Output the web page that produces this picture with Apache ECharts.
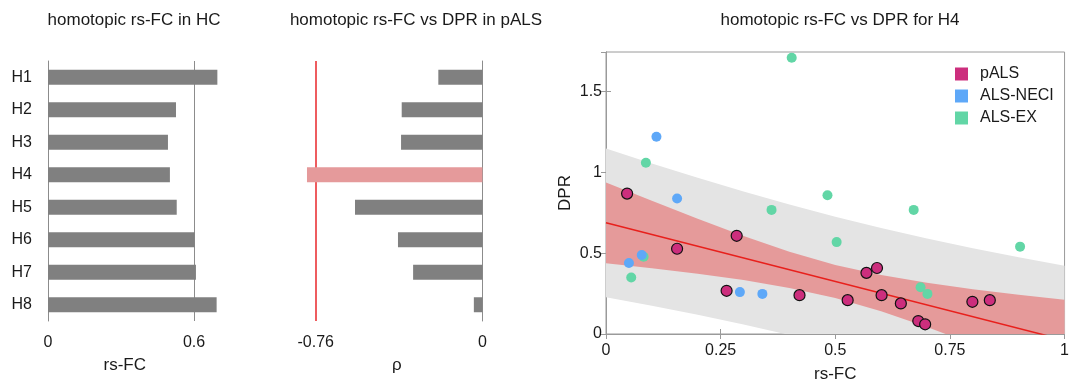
<!DOCTYPE html>
<html>
<head>
<meta charset="utf-8">
<script src="https://cdn.jsdelivr.net/npm/echarts@6/dist/echarts.min.js"></script>
<style>
  html, body { margin: 0; padding: 0; background: #fff; }
  #chart { width: 1072px; height: 388px; }
</style>
</head>
<body>
<div id="chart"></div>
<script>
// regions
const regions = ["H1", "H2", "H3", "H4", "H5", "H6", "H7", "H8"];
// homotopic rs-FC in HC
const hcFC = [0.696, 0.526, 0.493, 0.501, 0.529, 0.603, 0.608, 0.693];
// rho of rs-FC vs DPR in pALS
const rho = [-0.201, -0.368, -0.371, -0.80, -0.581, -0.385, -0.316, -0.039];
const rhoCrit = -0.76;
const hcRef = 0.6;

// scatter for H4
const palsX = [0.046, 0.285, 0.155, 0.263, 0.422, 0.527, 0.568, 0.591, 0.601, 0.643, 0.681, 0.696, 0.799, 0.837];
const palsY = [0.868, 0.607, 0.527, 0.267, 0.240, 0.209, 0.378, 0.408, 0.240, 0.189, 0.080, 0.060, 0.199, 0.209];
const neciX = [0.110, 0.155, 0.078, 0.050, 0.292, 0.341];
const neciY = [1.219, 0.837, 0.488, 0.439, 0.259, 0.248];
const exX = [0.405, 0.087, 0.483, 0.361, 0.671, 0.503, 0.903, 0.082, 0.055, 0.686, 0.701];
const exY = [1.707, 1.059, 0.858, 0.767, 0.767, 0.568, 0.540, 0.478, 0.349, 0.289, 0.248];

// regression line + bands
const regX = [0, 1];
const regY = [0.687, -0.038];
const bandX = [0, 0.1, 0.2, 0.3, 0.4, 0.5, 0.6, 0.7, 0.8, 0.9, 1.0];
const ciUpper = [0.936, 0.823, 0.712, 0.606, 0.509, 0.427, 0.364, 0.316, 0.277, 0.243, 0.211];
const ciLower = [0.438, 0.406, 0.372, 0.333, 0.285, 0.222, 0.140, 0.043, -0.063, -0.174, -0.287];
const piUpper = [1.147, 1.054, 0.965, 0.880, 0.800, 0.725, 0.655, 0.590, 0.530, 0.474, 0.422];
const piLower = [0.227, 0.175, 0.119, 0.059, -0.006, -0.076, -0.151, -0.231, -0.316, -0.405, -0.498];

const font = "'Liberation Sans', Arial, sans-serif";
const txt = "#1a1a1a";
const boxGray = "#9a9a9a";

function bandSeries(upper, lower, color) {
  let pts = bandX.map((x, i) => [x, upper[i]]);
  return {
    type: "custom",
    xAxisIndex: 2,
    yAxisIndex: 2,
    clip: true,
    silent: true,
    z: 1,
    data: pts,
    renderItem(params, api) {
      if (params.dataIndex !== 0) return;
      let poly = [];
      for (let i = 0; i < bandX.length; i++) poly.push(api.coord([bandX[i], upper[i]]));
      for (let i = bandX.length - 1; i >= 0; i--) poly.push(api.coord([bandX[i], lower[i]]));
      return {
        type: "polygon",
        shape: { points: poly },
        style: { fill: color },
      };
    },
  };
}

let chart = echarts.init(document.getElementById("chart"), null, { renderer: "canvas" });

let option = {
  backgroundColor: "#fff",
  animation: false,
  textStyle: { fontFamily: font },
  title: [
    { text: "homotopic rs-FC in HC", left: 129, top: 7, textAlign: "center",
      textStyle: { fontSize: 17, fontWeight: "normal", color: txt, fontFamily: font } },
    { text: "homotopic rs-FC vs DPR in pALS", left: 411, top: 7, textAlign: "center",
      textStyle: { fontSize: 17, fontWeight: "normal", color: txt, fontFamily: font } },
    { text: "homotopic rs-FC vs DPR for H4", left: 835, top: 7, textAlign: "center",
      textStyle: { fontSize: 17, fontWeight: "normal", color: txt, fontFamily: font } },
  ],
  legend: {
    data: ["pALS", "ALS-NECI", "ALS-EX"],
    orient: "vertical",
    left: 955,
    top: 66,
    padding: 0,
    icon: "rect",
    itemWidth: 13,
    itemHeight: 13,
    itemGap: 6,
    itemStyle: { borderWidth: 0 },
    textStyle: { fontSize: 16, color: txt, fontFamily: font, padding: [0, 0, 0, 7] },
  },
  grid: [
    { left: 48, top: 61, width: 182.5, height: 260 },
    { left: 300.4, top: 61, width: 182, height: 260 },
    { left: 606, top: 52, width: 463, height: 283, show: true, borderColor: boxGray, borderWidth: 1 },
  ],
  xAxis: [
    {
      gridIndex: 0, type: "value", min: 0, max: 0.75,
      name: "rs-FC", nameLocation: "middle", nameGap: 36,
      nameTextStyle: { fontSize: 17, color: txt, padding: [0, 29, 0, 0] },
      axisLine: { show: false }, axisTick: { show: false }, splitLine: { show: false },
      axisLabel: { customValues: [0, 0.6], fontSize: 16, color: txt, margin: 14 },
    },
    {
      gridIndex: 1, type: "value", min: -0.83, max: 0,
      name: "ρ", nameLocation: "middle", nameGap: 36,
      nameTextStyle: { fontSize: 17, color: txt, padding: [0, 0, 0, 11] },
      axisLine: { show: false }, axisTick: { show: false }, splitLine: { show: false },
      axisLabel: { customValues: [rhoCrit, 0], fontSize: 16, color: txt, margin: 14 },
    },
    {
      gridIndex: 2, type: "value", min: 0, max: 1, interval: 0.25,
      name: "rs-FC", nameLocation: "middle", nameGap: 32,
      nameTextStyle: { fontSize: 17, color: txt },
      axisLine: { show: true, lineStyle: { color: boxGray } },
      axisTick: { inside: true, length: 5, lineStyle: { color: boxGray } },
      splitLine: { show: false },
      axisLabel: { fontSize: 16, color: txt, margin: 9,
        formatter: (v) => String(v) },
    },
    {
      gridIndex: 2, type: "value", min: 0, max: 1, interval: 0.25, position: "top",
      axisLine: { show: true, lineStyle: { color: boxGray } },
      axisTick: { inside: true, length: 5, lineStyle: { color: boxGray } },
      axisLabel: { show: false }, splitLine: { show: false },
    },
  ],
  yAxis: [
    {
      gridIndex: 0, type: "category", data: regions, inverse: true,
      axisLine: { show: true, lineStyle: { color: "#8c8c8c" } },
      axisTick: { show: false },
      axisLabel: { fontSize: 16, color: txt, margin: 16 },
    },
    {
      gridIndex: 1, type: "category", data: regions, inverse: true, position: "right",
      axisLine: { show: true, lineStyle: { color: "#8c8c8c" } },
      axisTick: { show: false },
      axisLabel: { show: false },
    },
    {
      gridIndex: 2, type: "value", min: 0, max: 1.743, interval: 0.5,
      name: "DPR", nameLocation: "middle", nameGap: 32,
      nameTextStyle: { fontSize: 17, color: txt },
      axisLine: { show: true, lineStyle: { color: boxGray } },
      axisTick: { inside: true, length: 5, lineStyle: { color: boxGray } },
      splitLine: { show: false },
      axisLabel: { fontSize: 16, color: txt, margin: 4, showMaxLabel: false },
    },
    {
      gridIndex: 2, type: "value", min: 0, max: 1.743, interval: 0.5, position: "right",
      axisLine: { show: true, lineStyle: { color: boxGray } },
      axisTick: { inside: true, length: 5, lineStyle: { color: boxGray } },
      axisLabel: { show: false }, splitLine: { show: false },
    },
  ],
  series: [
    {
      type: "bar",
      xAxisIndex: 0,
      yAxisIndex: 0,
      data: hcFC,
      barWidth: 15,
      itemStyle: { color: "#808080" },
      z: 2,
    },
    {
      // reference line at 0.6, behind bars
      type: "scatter",
      xAxisIndex: 0,
      yAxisIndex: 0,
      data: [],
      z: 1,
      markLine: {
        z: 1, silent: true, symbol: "none", label: { show: false },
        lineStyle: { color: "#8c8c8c", width: 1, type: "solid" },
        data: [{ xAxis: hcRef }],
      },
    },
    {
      type: "bar",
      xAxisIndex: 1,
      yAxisIndex: 1,
      data: rho.map((v, i) => ({
        value: v,
        itemStyle: { color: regions[i] === "H4" ? "#e59a9b" : "#808080" },
      })),
      barWidth: 15,
      z: 2,
    },
    {
      type: "scatter",
      xAxisIndex: 1,
      yAxisIndex: 1,
      data: [],
      z: 1,
      markLine: {
        z: 1, silent: true, symbol: "none", label: { show: false },
        lineStyle: { color: "#e8262a", width: 1.5, type: "solid" },
        data: [{ xAxis: rhoCrit }],
      },
    },
    bandSeries(piUpper, piLower, "#e4e4e4"),
    bandSeries(ciUpper, ciLower, "#e59a9a"),
    {
      type: "line",
      xAxisIndex: 2,
      yAxisIndex: 2,
      data: regX.map((x, i) => [x, regY[i]]),
      symbol: "none",
      clip: true,
      lineStyle: { color: "#e8201c", width: 1.5 },
      z: 3,
    },
    {
      name: "ALS-EX",
      type: "scatter",
      xAxisIndex: 2,
      yAxisIndex: 2,
      data: exX.map((x, i) => [x, exY[i]]),
      symbolSize: 10,
      itemStyle: { color: "#62d6a6", opacity: 1 },
      z: 4,
    },
    {
      name: "ALS-NECI",
      type: "scatter",
      xAxisIndex: 2,
      yAxisIndex: 2,
      data: neciX.map((x, i) => [x, neciY[i]]),
      symbolSize: 10,
      itemStyle: { color: "#5ea8f8", opacity: 1 },
      z: 5,
    },
    {
      name: "pALS",
      type: "scatter",
      xAxisIndex: 2,
      yAxisIndex: 2,
      data: palsX.map((x, i) => [x, palsY[i]]),
      symbolSize: 11,
      itemStyle: { color: "#cc2e7d", borderColor: "#111", borderWidth: 1.2, opacity: 1 },
      z: 6,
    },
  ],
};

chart.setOption(option, true);
</script>
</body>
</html>
